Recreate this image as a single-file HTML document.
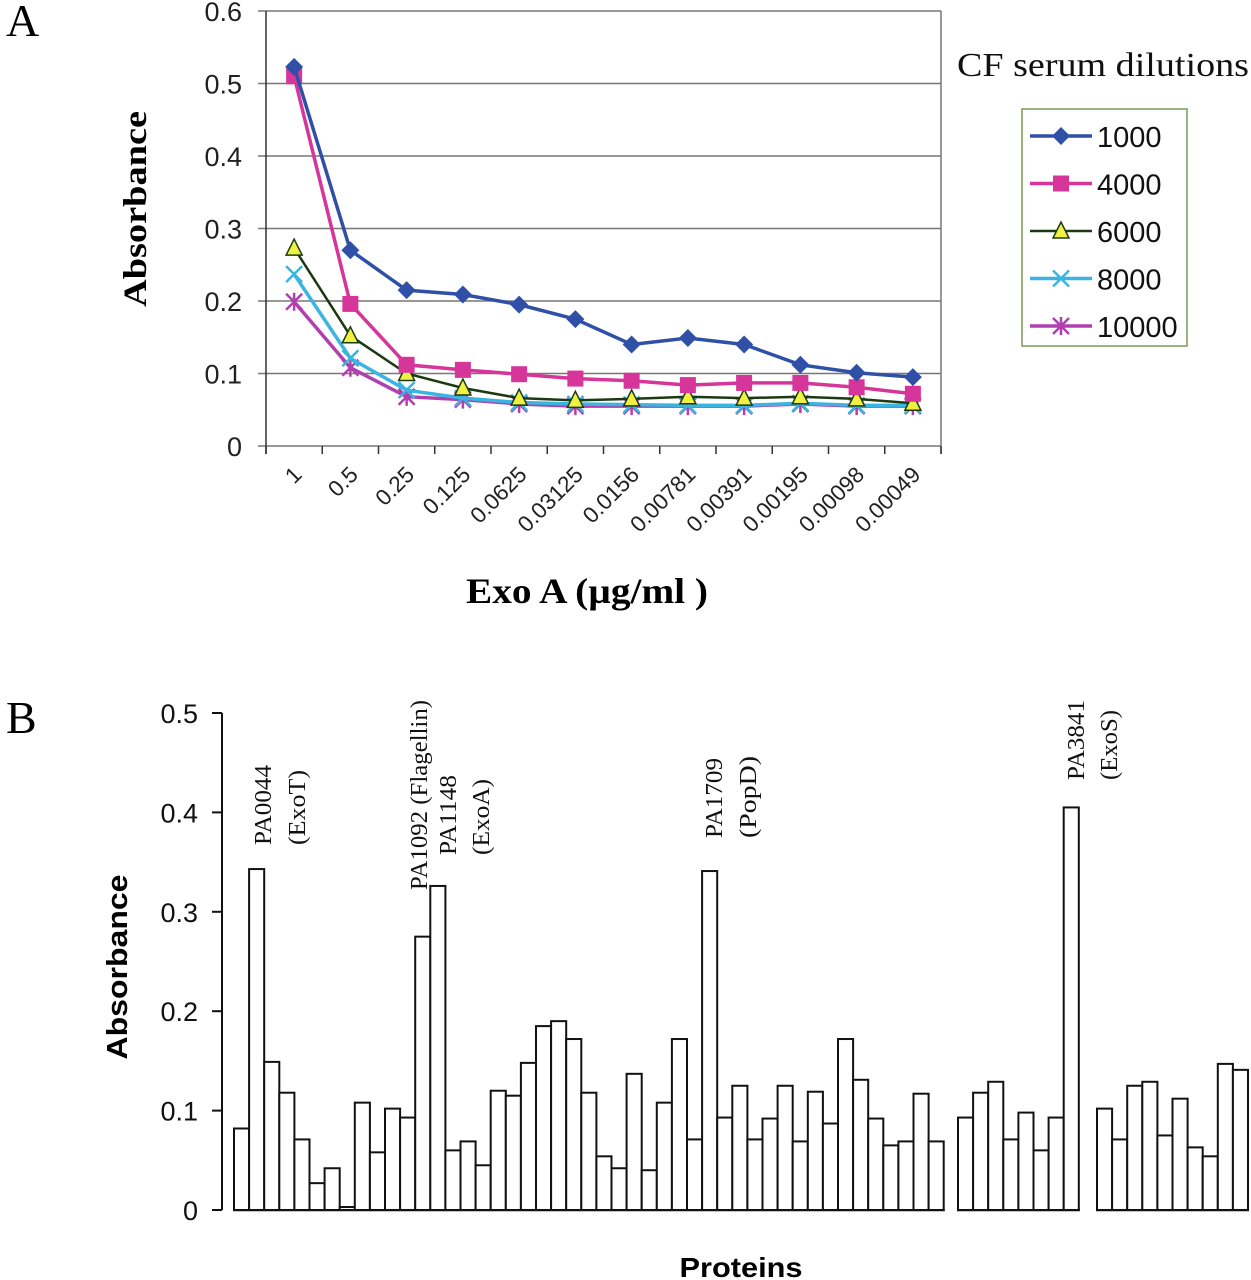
<!DOCTYPE html>
<html><head><meta charset="utf-8"><style>
body{margin:0;background:#fff;}
svg{display:block;}
.ax{font-family:"Liberation Sans",Arial,sans-serif;}
.sf{font-family:"Liberation Serif","Times New Roman",serif;}
</style></head><body>
<svg id="svg" width="1251" height="1280" viewBox="0 0 1251 1280" xmlns="http://www.w3.org/2000/svg">
<text x="6" y="36" class="sf" font-size="46">A</text>
<text x="6" y="733" class="sf" font-size="46">B</text>
<g id="gA"></g>
<g id="gB"></g>
</svg>
<script>
// ---------- Panel A data ----------
const catsA = ["1","0.5","0.25","0.125","0.0625","0.03125","0.0156","0.00781","0.00391","0.00195","0.00098","0.00049"];
const s1000 = [0.523,0.270,0.215,0.209,0.195,0.175,0.140,0.149,0.140,0.112,0.101,0.095];
const s4000 = [0.510,0.196,0.112,0.105,0.099,0.093,0.090,0.084,0.087,0.087,0.081,0.072];
const s6000 = [0.273,0.152,0.100,0.080,0.066,0.063,0.065,0.068,0.066,0.068,0.065,0.059];
const s8000 = [0.237,0.121,0.077,0.066,0.060,0.058,0.057,0.056,0.056,0.059,0.056,0.056];
const s10000 = [0.199,0.108,0.068,0.064,0.058,0.055,0.055,0.055,0.055,0.058,0.055,0.055];
const seriesNames = ["1000","4000","6000","8000","10000"];
const yTicksA = [0,0.1,0.2,0.3,0.4,0.5,0.6];
// ---------- Panel B data ----------
const group1 = [0.082,0.343,0.149,0.118,0.071,0.027,0.042,0.003,0.108,0.058,0.102,0.093,0.275,0.326,0.060,0.069,0.045,0.120,0.115,0.148,0.185,0.190,0.172,0.118,0.054,0.042,0.137,0.040,0.108,0.172,0.071,0.341,0.093,0.125,0.071,0.092,0.125,0.069,0.119,0.087,0.172,0.131,0.092,0.065,0.069,0.117,0.069];
const group2 = [0.093,0.118,0.129,0.071,0.098,0.060,0.093,0.405];
const group3 = [0.102,0.071,0.125,0.129,0.075,0.112,0.063,0.054,0.147,0.141];
const yTicksB = [0,0.1,0.2,0.3,0.4,0.5];

const NS="http://www.w3.org/2000/svg";
function mk(tag,attrs,parent,txt){const e=document.createElementNS(NS,tag);for(const k in attrs)e.setAttribute(k,attrs[k]);if(txt!==undefined)e.textContent=txt;parent.appendChild(e);return e;}

// ----- Panel A -----
const gA=document.getElementById('gA');
const AX0=266,AX1=941,AY0=446,AY1=11;
const xA=i=>AX0+(i+0.5)*(AX1-AX0)/catsA.length;
const yA=v=>AY0-(v/0.6)*(AY0-AY1);
yTicksA.forEach(t=>{
  const y=yA(t);
  const gl=mk('line',{x1:AX0-8,x2:AX1,y1:y,y2:y,stroke:'#777','stroke-width':1.5},gA);
  
  
  const tl=mk('text',{x:AX0-24,y:y+10,'text-anchor':'end','font-size':27,class:'ax',fill:'#222'},gA,t===0?"0":t.toFixed(1));
  
  
});
mk('line',{x1:AX0,x2:AX0,y1:AY1,y2:AY0+8,stroke:'#333','stroke-width':1.5},gA);
mk('line',{x1:AX1,x2:AX1,y1:AY1,y2:AY0+8,stroke:'#777','stroke-width':1.5},gA);
for(let i=0;i<=catsA.length;i++){const x=AX0+i*(AX1-AX0)/catsA.length;mk('line',{x1:x,x2:x,y1:AY0,y2:AY0+8,stroke:'#333','stroke-width':1.5},gA);}
catsA.forEach((c,i)=>{
  const x=xA(i)+9,y=AY0+30;
  const t=mk('text',{x:x,y:y,'text-anchor':'end','font-size':22.5,class:'ax',fill:'#222',transform:`rotate(-45 ${x} ${y})`},gA,c);
  
  
});
const ya=mk('text',{x:0,y:0,'text-anchor':'middle','font-size':33,'font-weight':'bold',class:'sf',textLength:196,lengthAdjust:'spacingAndGlyphs',transform:'translate(146 209) rotate(-90)'},gA,'Absorbance');


const xa=mk('text',{x:587,y:603,'text-anchor':'middle','font-size':36,'font-weight':'bold',class:'sf',textLength:242,lengthAdjust:'spacingAndGlyphs'},gA,'Exo A (\u00B5g/ml )');



const allS=[s1000,s4000,s6000,s8000,s10000];
const colors=['#3050a8','#d6359a','#1c3a12','#3ab4e0','#b040b0'];
function marker(kind,x,y,col,parent){
  let m;
  if(kind===0) m=mk('polygon',{points:`${x},${y-9} ${x+9},${y} ${x},${y+9} ${x-9},${y}`,fill:col},parent);
  else if(kind===1) m=mk('rect',{x:x-8,y:y-8,width:16,height:16,fill:col},parent);
  else if(kind===2) m=mk('polygon',{points:`${x},${y-9} ${x+8},${y+7} ${x-8},${y+7}`,fill:'#f0f040',stroke:'#1c3a12','stroke-width':1.5},parent);
  else if(kind===3) m=mk('path',{d:`M${x-8},${y-8}L${x+8},${y+8}M${x+8},${y-8}L${x-8},${y+8}`,stroke:col,'stroke-width':2.5},parent);
  else m=mk('path',{d:`M${x-8},${y-8}L${x+8},${y+8}M${x+8},${y-8}L${x-8},${y+8}M${x},${y-9}L${x},${y+9}`,stroke:col,'stroke-width':2.5},parent);
  return m;
}
[4,3,2,1,0].forEach(k=>{
  const s=allS[k];
  const g=mk('g',{},gA);
  
  
  const pl=mk('polyline',{points:s.map((v,i)=>xA(i)+','+yA(v)).join(' '),fill:'none',stroke:colors[k],'stroke-width':k===2?2.5:3.5},g);
  
  
  s.forEach((v,i)=>{const m=marker(k,xA(i),yA(v),colors[k],g);
    
    });
});
// legend
const lt=mk('text',{x:957,y:76,'font-size':34,class:'sf',fill:'#111',textLength:292,lengthAdjust:'spacingAndGlyphs'},gA,'CF serum dilutions');


const lg=mk('g',{},gA);


mk('rect',{x:1022,y:109,width:165,height:237,fill:'#fff',stroke:'#7a9a5a','stroke-width':1.5},lg);
seriesNames.forEach((n,k)=>{
  const y=136+k*47.5;
  const e=mk('g',{},lg);
  
  
  mk('line',{x1:1030,x2:1092,y1:y,y2:y,stroke:colors[k],'stroke-width':k===2?2.5:3.5},e);
  marker(k,1061,y,colors[k],e);
  mk('text',{x:1097,y:y+11,'font-size':29,class:'ax',fill:'#111'},e,n);
});

// ----- Panel B -----
const gB=document.getElementById('gB');
const BY0=1210,BY1=713,BAX=222;
const yB=v=>BY0-(v/0.5)*(BY0-BY1);
const BW=15.1;
mk('line',{x1:BAX,x2:BAX,y1:BY1,y2:BY0,stroke:'#111','stroke-width':2},gB);
yTicksB.forEach(t=>{
  const y=yB(t);
  mk('line',{x1:BAX-10,x2:BAX,y1:y,y2:y,stroke:'#111','stroke-width':2},gB);
  const tl=mk('text',{x:BAX-24,y:y+10,'text-anchor':'end','font-size':27,class:'ax',fill:'#111'},gB,t===0?"0":t.toFixed(1));
  
  
});
const groups=[[group1,234],[group2,958],[group3,1097]];
groups.forEach(([vals,x0],gi)=>{
  const g=mk('g',{},gB);
  
  
  mk('line',{x1:x0-1,x2:x0+vals.length*BW+1,y1:BY0,y2:BY0,stroke:'#111','stroke-width':2.5},g);
  vals.forEach((v,i)=>{
    const r=mk('rect',{x:x0+i*BW,y:yB(v),width:BW,height:BY0-yB(v),fill:'#fff',stroke:'#111','stroke-width':2},g);
    
    
  });
});
const anns=[["PA0044",271,845,80],["(ExoT)",305,845,75],["PA1092 (Flagellin)",427,890,190],["PA1148",456,855,80],["(ExoA)",489,855,76],["PA1709",722,838,80],["(PopD)",756,838,82],["PA3841",1084,780,80],["(ExoS)",1117,780,70]];
anns.forEach(([t,x,y,L])=>{
  const e=mk('text',{x:x,y:y,'font-size':24,class:'sf',fill:'#111',textLength:L,lengthAdjust:'spacingAndGlyphs',transform:`rotate(-90 ${x} ${y})`},gB,t);
  
  
});
const yb=mk('text',{x:0,y:0,'text-anchor':'middle','font-size':29,'font-weight':'bold',class:'ax',textLength:185,lengthAdjust:'spacingAndGlyphs',transform:'translate(127 967) rotate(-90)'},gB,'Absorbance');


const xb=mk('text',{x:741,y:1277,'text-anchor':'middle','font-size':28,'font-weight':'bold',class:'ax',textLength:123,lengthAdjust:'spacingAndGlyphs'},gB,'Proteins');


</script>
</body></html>
